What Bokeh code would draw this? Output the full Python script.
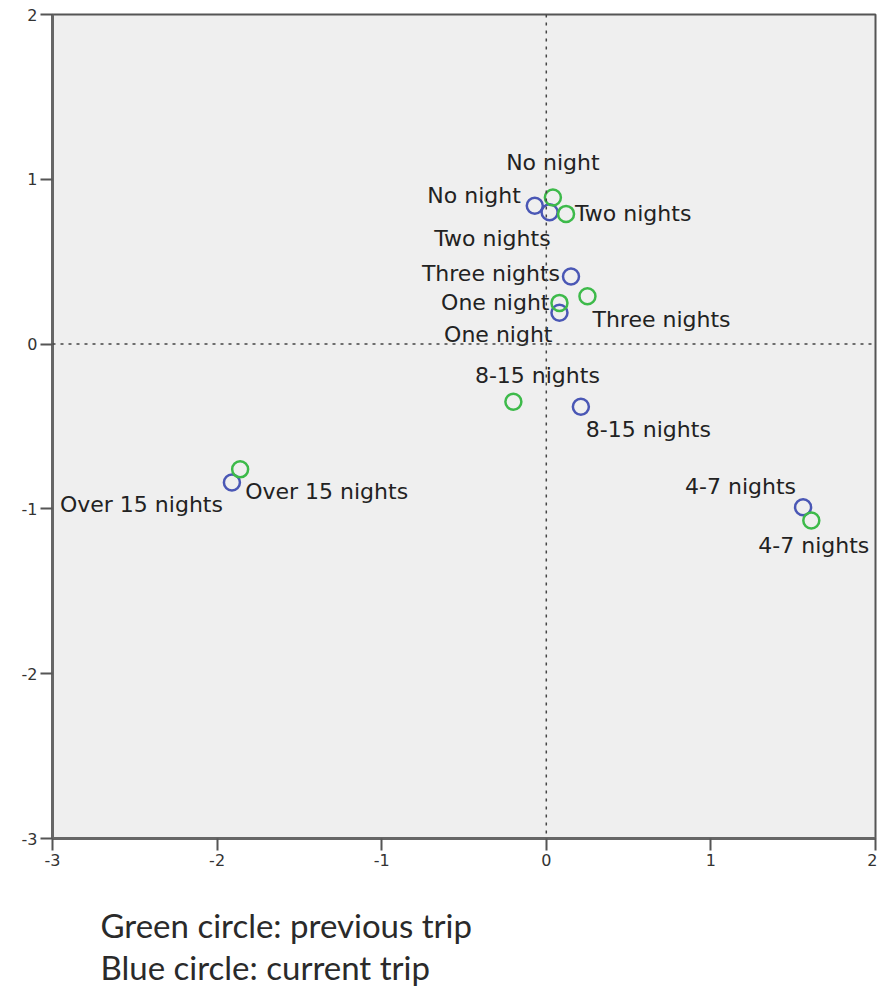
from bokeh.plotting import figure
from bokeh.models import ColumnDataSource, Span, Title, FixedTicker
from bokeh.embed import file_html
from bokeh.resources import INLINE
from bokeh.core.properties import value

# ---- data ----
categories = ["No night", "One night", "Two nights", "Three nights",
              "4-7 nights", "8-15 nights", "Over 15 nights"]
previous_x = [0.04, 0.08, 0.12, 0.25, 1.61, -0.20, -1.86]
previous_y = [0.89, 0.25, 0.79, 0.29, -1.07, -0.35, -0.76]
current_x = [-0.07, 0.08, 0.02, 0.15, 1.56, 0.21, -1.91]
current_y = [0.84, 0.19, 0.80, 0.41, -0.99, -0.38, -0.84]
x_ticks = [-3, -2, -1, 0, 1, 2]
y_ticks = [-3, -2, -1, 0, 1, 2]
tick_labels = {t: str(t) for t in x_ticks}
note_lines = ["Green circle: previous trip", "Blue circle: current trip"]

# ---- label placement (pixel offsets, layout only) ----
prev_dx = [0, -10, 9, 5, 58, 24, 5]
prev_dy = [-35, 0, 0, 23, 25, -26, 22]
prev_align = ["center", "right", "left", "left", "right", "center", "left"]
cur_dx = [-14, -7, 1, -11, -7, 5, -9]
cur_dy = [-10, 22, 26, -3, -21, 23, 22]
cur_align = ["right", "right", "right", "right", "right", "left", "right"]

GREEN = "#3dba4a"
BLUE = "#4a57b5"

p = figure(frame_width=823, frame_height=824,
           min_border_left=52, min_border_right=2, min_border_top=14, min_border_bottom=20,
           x_range=(-3, 2), y_range=(-3, 2),
           output_backend="svg", toolbar_location=None)

p.background_fill_color = "#efefef"
p.border_fill_color = "white"
p.outline_line_color = "#555555"
p.outline_line_width = 2
p.xgrid.visible = False
p.ygrid.visible = False

for ax in (p.xaxis[0], p.yaxis[0]):
    ax.axis_line_color = "#666666"
    ax.axis_line_width = 3
    ax.major_tick_line_color = "#555555"
    ax.major_tick_line_width = 2
    ax.major_tick_out = 12
    ax.major_tick_in = 0
    ax.minor_tick_line_color = None
    ax.major_label_text_font = "DejaVu Sans"
    ax.major_label_text_font_size = "16px"
    ax.major_label_text_color = "#333333"
    ax.major_label_standoff = 3
    ax.major_label_overrides = tick_labels
p.xaxis.ticker = FixedTicker(ticks=x_ticks)
p.yaxis.ticker = FixedTicker(ticks=y_ticks)

p.add_layout(Span(location=0, dimension="height", line_color="#444444",
                  line_width=1.5, line_dash="3 5"))
p.add_layout(Span(location=0, dimension="width", line_color="#444444",
                  line_width=1.5, line_dash="3 5"))

src_prev = ColumnDataSource(dict(x=previous_x, y=previous_y, label=categories,
                                 dx=prev_dx, dy=prev_dy, align=prev_align))
src_cur = ColumnDataSource(dict(x=current_x, y=current_y, label=categories,
                                dx=cur_dx, dy=cur_dy, align=cur_align))

for src in (src_prev, src_cur):
    p.text(x="x", y="y", text="label", source=src, x_offset="dx", y_offset="dy",
           text_align="align", text_baseline="middle",
           text_font=value("DejaVu Sans"), text_font_size="22px", text_color="#222222")

p.scatter(x="x", y="y", source=src_cur, marker="circle", size=16,
          fill_color=None, line_color=BLUE, line_width=2.5)
p.scatter(x="x", y="y", source=src_prev, marker="circle", size=16,
          fill_color=None, line_color=GREEN, line_width=2.5)

p.add_layout(Title(text="\n".join(note_lines), align="left", offset=48, standoff=69,
                   text_font="Lato", text_font_size="33px", text_line_height=1.05,
                   text_font_style="normal", text_color="#2a2a2a"), "below")

open("out.html", "w").write(file_html(p, INLINE))
